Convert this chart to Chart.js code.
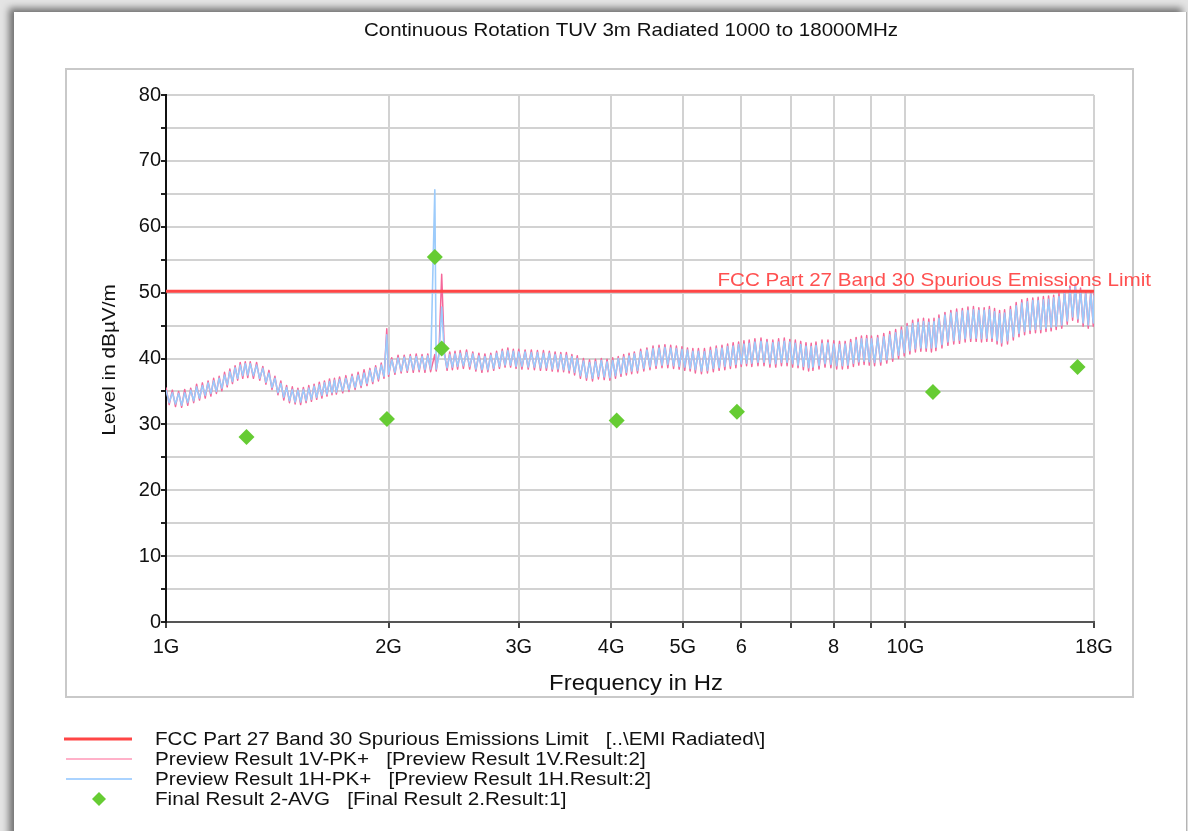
<!DOCTYPE html>
<html>
<head>
  <meta charset="UTF-8">
  <title>Continuous Rotation TUV 3m Radiated 1000 to 18000MHz</title>
  <script src="https://cdn.jsdelivr.net/npm/chart.js"></script>
  <style>
    html, body {
      margin: 0;
      padding: 0;
      background: #e4e4e4;
    }
    body {
      width: 1188px;
      height: 831px;
      position: relative;
      overflow: hidden;
    }
    /* the report page with its window shadow */
    .page {
      position: absolute;
      left: 14px;
      top: 12px;
      right: 1px;
      bottom: -20px;
      background: #fff;
      border-right: 1px solid #b4b4b4;
      box-shadow: -5px -4px 7px rgba(0, 0, 0, 0.5);
    }
    canvas {
      position: absolute;
      left: 0;
      top: 0;
    }
  </style>
</head>
<body>
  <div class="page"></div>
  <canvas id="emiChart" width="1188" height="831"></canvas>

  <script>
    const chartTitle = 'Continuous Rotation TUV 3m Radiated 1000 to 18000MHz';
    const xTitle = 'Frequency in Hz';
    const yTitle = 'Level in dB\u00b5V/m';

    // x axis ticks (MHz) and their labels
    const xTicks = [1000, 2000, 3000, 4000, 5000, 6000, 7000, 8000, 9000, 10000, 18000];
    const xTickLabels = ['1G', '2G', '3G', '4G', '5G', '6', '', '8', '', '10G', '18G'];

    // limit line
    const limitName = 'FCC Part 27 Band 30 Spurious Emissions Limit';
    const limitFreq = [1000, 18000];
    const limitLevel = [50.2, 50.2];

    // preview scans, min/max pairs (MHz / dBuV/m)
    const freqMHz = [
      1000, 1010, 1020, 1030, 1040, 1050, 1060, 1070, 1080, 1090, 1100, 1110, 1120, 1130, 1140,
      1150, 1160, 1170, 1180, 1190, 1200, 1210, 1220, 1230, 1240, 1250, 1260, 1270, 1280, 1290,
      1300, 1313, 1326, 1339, 1352, 1365, 1378, 1391, 1404, 1417, 1430, 1443, 1456, 1469, 1482, 1495,
      1508, 1521, 1534, 1547, 1560, 1573, 1586, 1599, 1612, 1625, 1638, 1651, 1664, 1677, 1690,
      1700, 1717, 1734, 1751, 1768, 1785, 1802, 1819, 1836, 1853, 1870, 1887, 1904, 1921, 1938, 1955, 1972, 1989,
      2000, 2020, 2040, 2060, 2080, 2100, 2120, 2140, 2160, 2180, 2200, 2220, 2240, 2260, 2280, 2310,
      2320, 2340, 2360, 2380, 2400, 2420, 2440, 2460, 2480,
      2500, 2525, 2550, 2575, 2600, 2625, 2650, 2675, 2700, 2725, 2750, 2775, 2800, 2825, 2850, 2875, 2900, 2925, 2950, 2975,
      3000, 3030, 3060, 3090, 3120, 3150, 3180, 3210, 3240, 3270, 3300, 3330, 3360, 3390, 3420, 3450, 3480, 3510, 3540, 3570,
      3600, 3635, 3670, 3705, 3740, 3775, 3810, 3845, 3880, 3915, 3950, 3985, 4020, 4055, 4090, 4125, 4160, 4195, 4230, 4265,
      4300, 4343, 4386, 4429, 4472, 4515, 4558, 4601, 4644, 4687, 4730, 4773, 4816, 4859, 4902, 4945, 4988, 5031, 5074, 5117, 5160,
      5200, 5250, 5300, 5350, 5400, 5450, 5500, 5550, 5600, 5650, 5700, 5750, 5800, 5850, 5900, 5950, 6000, 6050, 6100, 6150,
      6200, 6260, 6320, 6380, 6440, 6500, 6560, 6620, 6680, 6740, 6800, 6860, 6920, 6980, 7040, 7100, 7160, 7220, 7280, 7340, 7400, 7460,
      7500, 7572, 7644, 7716, 7788, 7860, 7932, 8004, 8076, 8148, 8220, 8292, 8364, 8436, 8508, 8580, 8652, 8724, 8796, 8868, 8940,
      9000, 9088, 9176, 9264, 9352, 9440, 9528, 9616, 9704, 9792, 9880, 9968, 10056, 10144, 10232, 10320, 10408, 10496, 10584, 10672, 10760, 10848, 10936,
      11000, 11105, 11210, 11315, 11420, 11525, 11630, 11735, 11840, 11945, 12050, 12155, 12260, 12365, 12470, 12575, 12680, 12785, 12890, 12995, 13100, 13205, 13310, 13415,
      13500, 13625, 13750, 13875, 14000, 14125, 14250, 14375, 14500, 14625, 14750, 14875, 15000, 15125, 15250, 15375, 15500, 15625, 15750, 15875,
      16000, 16140, 16280, 16420, 16560, 16700, 16840, 16980, 17120, 17260, 17400, 17540, 17680, 17820, 17960, 18000
    ];

    const preview1V = [
      35.6, 33.0, 35.2, 32.7, 35.0, 32.6, 35.3, 32.9, 35.5, 33.3, 36.1, 33.7, 36.3, 34.0, 36.6,
      34.3, 37.0, 34.7, 37.3, 35.1, 37.9, 35.7, 38.4, 36.2, 38.9, 36.7, 39.4, 37.0, 39.5, 37.1,
      39.5, 37.0, 39.4, 36.7, 38.8, 36.1, 38.2, 35.3, 37.3, 34.5, 36.6, 33.7, 35.9, 33.3, 35.7, 33.1,
      35.5, 33.0, 35.6, 33.3, 35.9, 33.5, 36.1, 33.8, 36.4, 34.0, 36.6, 34.3, 36.9, 34.5, 37.0,
      34.6, 37.2, 34.8, 37.4, 35.0, 37.6, 35.3, 37.9, 35.6, 38.3, 35.9, 38.5, 36.2, 38.9, 36.6, 39.3, 37.0, 44.5,
      37.3, 40.1, 37.6, 40.5, 37.8, 40.5, 37.9, 40.6, 37.9, 40.7, 38.0, 40.6, 37.9, 40.7, 38.0, 40.6,
      38.1, 40.8, 52.8, 40.9, 38.2, 41.0, 38.3, 41.1, 38.4,
      41.2, 38.5, 41.3, 38.4, 41.0, 38.1, 40.8, 37.9, 40.7, 38.0, 40.8, 38.2, 41.1, 38.5, 41.4, 38.7, 41.6, 38.7, 41.4, 38.5,
      41.4, 38.4, 41.3, 38.4, 41.3, 38.3, 41.2, 38.2, 41.2, 38.2, 41.1, 38.1, 41.0, 38.0, 40.9, 38.0, 40.9, 37.8, 40.6, 37.5,
      40.4, 37.0, 40.0, 36.7, 39.8, 36.6, 39.9, 36.9, 40.0, 36.8, 39.9, 36.7, 40.1, 37.0, 40.3, 37.3, 40.6, 37.5, 40.8, 37.7,
      41.0, 37.8, 41.4, 38.1, 41.6, 38.3, 41.9, 38.5, 42.0, 38.6, 42.1, 38.6, 42.0, 38.5, 41.9, 38.4, 41.8, 38.2, 41.6, 38.1, 41.5,
      37.8, 41.5, 37.7, 41.5, 37.8, 41.7, 38.0, 41.9, 38.2, 42.0, 38.3, 42.2, 38.5, 42.4, 38.6, 42.5, 38.8, 42.7, 38.9, 42.8,
      38.8, 43.0, 38.9, 43.1, 38.9, 42.9, 38.7, 42.8, 38.7, 43.0, 38.9, 43.1, 38.9, 42.9, 38.7, 42.8, 38.6, 42.6, 38.3, 42.4, 38.1, 42.3,
      38.2, 42.5, 38.4, 42.8, 38.7, 42.8, 38.6, 42.7, 38.4, 42.6, 38.4, 42.6, 38.5, 42.9, 38.8, 43.2, 39.0, 43.4, 39.1, 43.5, 39.0,
      43.4, 38.9, 43.5, 39.0, 43.8, 39.3, 44.1, 39.6, 44.4, 40.0, 44.8, 40.4, 45.3, 40.7, 45.8, 41.0, 46.0, 41.1, 46.1, 41.1, 46.0, 41.0, 46.1,
      41.2, 46.6, 41.6, 47.0, 42.0, 47.3, 42.2, 47.5, 42.3, 47.6, 42.5, 47.8, 42.6, 47.9, 42.6, 47.7, 42.5, 47.7, 42.6, 47.9, 42.6, 47.6, 42.2, 47.3,
      41.9, 47.4, 42.2, 47.9, 42.8, 48.5, 43.3, 48.9, 43.6, 49.1, 43.8, 49.2, 43.9, 49.3, 43.9, 49.4, 44.1, 49.5, 44.2, 49.6,
      44.4, 49.9, 44.6, 50.3, 45.2, 51.0, 45.8, 51.3, 45.5, 50.7, 44.9, 50.2, 44.6, 50.2, 44.9, 50.0
    ];

    const preview1H = [
      35.2, 33.3, 34.8, 33.1, 34.7, 32.9, 34.8, 33.3, 35.2, 33.6, 35.7, 34.0, 35.9, 34.4, 36.3,
      34.7, 36.6, 35.0, 37.0, 35.5, 37.5, 36.0, 38.0, 36.5, 38.6, 37.0, 39.0, 37.4, 39.2, 37.5,
      39.2, 37.4, 39.0, 37.0, 38.5, 36.4, 37.8, 35.6, 37.0, 34.8, 36.2, 34.1, 35.6, 33.6, 35.3, 33.4,
      35.2, 33.4, 35.3, 33.6, 35.5, 33.8, 35.8, 34.1, 36.0, 34.4, 36.3, 34.6, 36.5, 34.8, 36.7,
      34.9, 36.8, 35.1, 37.0, 35.3, 37.3, 35.6, 37.5, 35.9, 37.8, 36.2, 38.2, 36.5, 38.6, 36.9, 39.0, 37.3, 43.6,
      37.6, 39.8, 37.9, 40.1, 38.1, 40.2, 38.2, 40.3, 38.3, 40.3, 38.3, 40.3, 38.3, 40.4, 38.4, 65.6,
      38.4, 40.5, 47.8, 40.5, 38.6, 40.6, 38.7, 40.7, 38.8,
      40.8, 38.9, 40.9, 38.8, 40.7, 38.4, 40.4, 38.3, 40.3, 38.3, 40.5, 38.5, 40.8, 38.8, 41.1, 39.0, 41.2, 39.0, 41.1, 38.8,
      41.0, 38.8, 41.0, 38.7, 40.9, 38.7, 40.9, 38.6, 40.8, 38.6, 40.8, 38.4, 40.6, 38.4, 40.6, 38.3, 40.5, 38.2, 40.3, 37.9,
      40.0, 37.4, 39.6, 37.1, 39.4, 37.0, 39.5, 37.3, 39.7, 37.2, 39.5, 37.1, 39.7, 37.4, 40.0, 37.7, 40.2, 37.9, 40.4, 38.1,
      40.7, 38.2, 41.0, 38.5, 41.3, 38.7, 41.5, 38.9, 41.6, 39.0, 41.7, 39.1, 41.6, 38.9, 41.5, 38.8, 41.4, 38.7, 41.3, 38.5, 41.1,
      38.3, 41.1, 38.1, 41.0, 38.2, 41.2, 38.5, 41.5, 38.6, 41.6, 38.8, 41.8, 38.9, 41.9, 39.1, 42.1, 39.2, 42.2, 39.3, 42.3,
      39.3, 42.5, 39.4, 42.6, 39.4, 42.5, 39.2, 42.4, 39.2, 42.5, 39.4, 42.6, 39.4, 42.5, 39.2, 42.3, 39.0, 42.1, 38.8, 41.9, 38.6, 41.8,
      38.7, 42.0, 38.9, 42.3, 39.2, 42.4, 39.1, 42.2, 38.9, 42.1, 38.9, 42.2, 39.0, 42.4, 39.3, 42.8, 39.5, 43.0, 39.6, 43.0, 39.5,
      43.0, 39.4, 43.1, 39.5, 43.3, 39.8, 43.6, 40.1, 43.9, 40.5, 44.3, 40.9, 44.9, 41.2, 45.3, 41.5, 45.5, 41.6, 45.6, 41.6, 45.5, 41.6, 45.6,
      41.7, 46.1, 42.1, 46.6, 42.5, 46.9, 42.7, 47.0, 42.8, 47.2, 43.0, 47.3, 43.1, 47.4, 43.1, 47.3, 43.0, 47.3, 43.1, 47.4, 43.1, 47.1, 42.7, 46.8,
      42.4, 46.9, 42.7, 47.4, 43.3, 48.0, 43.8, 48.4, 44.1, 48.6, 44.3, 48.8, 44.4, 48.8, 44.4, 48.9, 44.6, 49.0, 44.7, 49.2,
      44.9, 49.4, 45.1, 49.9, 45.7, 50.6, 46.3, 51.0, 46.0, 50.3, 45.4, 49.8, 45.1, 49.8, 45.4, 49.6
    ];

    // final average measurements
    const finalFreqMHz = [1285, 1990, 2310, 2360, 4070, 5920, 10900, 17100];
    const finalAvg = [28.1, 30.8, 55.4, 41.5, 30.6, 31.9, 34.9, 38.7];

    const legendLabels = [
      'FCC Part 27 Band 30 Spurious Emissions Limit   [..\\EMI Radiated\\]',
      'Preview Result 1V-PK+   [Preview Result 1V.Result:2]',
      'Preview Result 1H-PK+   [Preview Result 1H.Result:2]',
      'Final Result 2-AVG   [Final Result 2.Result:1]'
    ];

    const FONT = '"Liberation Sans", Arial, sans-serif';
    const RED = '#ff4545';
    const PINK = '#f5679a';
    const BLUE = '#9ccbfb';
    const GREEN = '#66cc33';

    const toPoints = (xs, ys) => xs.map((x, i) => ({ x: x, y: ys[i] }));

    // the report font is a little wider than Arial, so stretch it
    function wideText(c, text, x, y, size, align) {
      c.save();
      c.font = size + 'px ' + FONT;
      c.textAlign = align;
      c.translate(x, y);
      c.scale(1.11, 1);
      c.fillText(text, 0, 0);
      c.restore();
    }

    // panel, titles, limit label and legend
    const decor = {
      id: 'decor',
      beforeDraw(chart) {
        const c = chart.ctx;
        c.save();
        c.strokeStyle = '#c9c9c9';
        c.lineWidth = 2;
        c.strokeRect(66, 69, 1067, 628);
        c.restore();
      },
      afterDraw(chart) {
        const c = chart.ctx;
        const area = chart.chartArea;
        c.save();
        c.fillStyle = '#111';
        c.textBaseline = 'middle';
        wideText(c, chartTitle, (area.left + area.right) / 2 + 1, 31, 18.5, 'center');
        wideText(c, xTitle, 636, 684, 21.5, 'center');

        c.save();
        c.translate(110, 360);
        c.rotate(-Math.PI / 2);
        wideText(c, yTitle, 0, 0, 18.7, 'center');
        c.restore();

        // limit name above the line
        const yl = chart.scales.y.getPixelForValue(limitLevel[1]);
        c.fillStyle = '#ff5050';
        c.textBaseline = 'bottom';
        wideText(c, limitName, 1151, yl - 1, 18.6, 'right');

        // legend
        const rows = [739, 759, 779, 799];
        c.lineCap = 'butt';
        c.strokeStyle = RED; c.lineWidth = 3;
        c.beginPath(); c.moveTo(64, rows[0]); c.lineTo(132, rows[0]); c.stroke();
        c.strokeStyle = '#ffb1c9'; c.lineWidth = 2;
        c.beginPath(); c.moveTo(66, rows[1]); c.lineTo(132, rows[1]); c.stroke();
        c.strokeStyle = '#8ec5ff'; c.lineWidth = 1.5;
        c.beginPath(); c.moveTo(66, rows[2]); c.lineTo(132, rows[2]); c.stroke();
        c.fillStyle = GREEN;
        c.beginPath();
        c.moveTo(99, rows[3] - 7); c.lineTo(106, rows[3]); c.lineTo(99, rows[3] + 7); c.lineTo(92, rows[3]);
        c.closePath(); c.fill();

        c.fillStyle = '#111';
        c.textBaseline = 'middle';
        legendLabels.forEach((t, i) => wideText(c, t, 155, rows[i] + 1, 18.6, 'left'));
        c.restore();
      }
    };

    const ctx = document.getElementById('emiChart').getContext('2d');

    new Chart(ctx, {
      type: 'line',
      data: {
        datasets: [
          {
            label: 'Final Result 2-AVG',
            data: toPoints(finalFreqMHz, finalAvg),
            showLine: false,
            pointStyle: 'rectRot',
            pointRadius: 8,
            pointBackgroundColor: GREEN,
            pointBorderColor: GREEN,
            pointBorderWidth: 0,
            order: 0
          },
          {
            label: limitName,
            data: toPoints(limitFreq, limitLevel),
            borderColor: RED,
            borderWidth: 3,
            pointRadius: 0,
            order: 1
          },
          {
            label: 'Preview Result 1H-PK+',
            data: toPoints(freqMHz, preview1H),
            borderColor: BLUE,
            borderWidth: 1.6,
            borderJoinStyle: 'round',
            pointRadius: 0,
            order: 2
          },
          {
            label: 'Preview Result 1V-PK+',
            data: toPoints(freqMHz, preview1V),
            borderColor: PINK,
            borderWidth: 1.5,
            borderJoinStyle: 'round',
            pointRadius: 0,
            order: 3
          }
        ]
      },
      options: {
        responsive: false,
        devicePixelRatio: 1,
        animation: false,
        events: [],
        layout: { padding: { left: 0, top: 95, right: 94, bottom: 0 } },
        plugins: {
          legend: { display: false },
          tooltip: { enabled: false }
        },
        scales: {
          x: {
            type: 'logarithmic',
            min: 1000,
            max: 18000,
            afterBuildTicks: scale => { scale.ticks = xTicks.map(v => ({ value: v })); },
            afterFit: scale => { scale.height = 209; },
            ticks: {
              autoSkip: false,
              maxRotation: 0,
              padding: 7,
              color: '#111',
              font: { family: FONT, size: 20 },
              callback: (v, i) => xTickLabels[i]
            },
            grid: {
              color: '#d2d2d2',
              lineWidth: 2,
              tickColor: '#444',
              tickLength: 6
            },
            border: { color: '#555', width: 2 }
          },
          y: {
            min: 0,
            max: 80,
            afterFit: scale => { scale.width = 166; },
            ticks: {
              stepSize: 5,
              padding: 0,
              color: '#111',
              font: { family: FONT, size: 20 },
              callback: v => (v % 10 === 0 ? String(v) : '')
            },
            grid: {
              color: '#d2d2d2',
              lineWidth: 2,
              tickColor: '#222',
              tickLength: 5
            },
            border: { color: '#111', width: 2 }
          }
        }
      },
      plugins: [decor]
    });
  </script>
</body>
</html>
